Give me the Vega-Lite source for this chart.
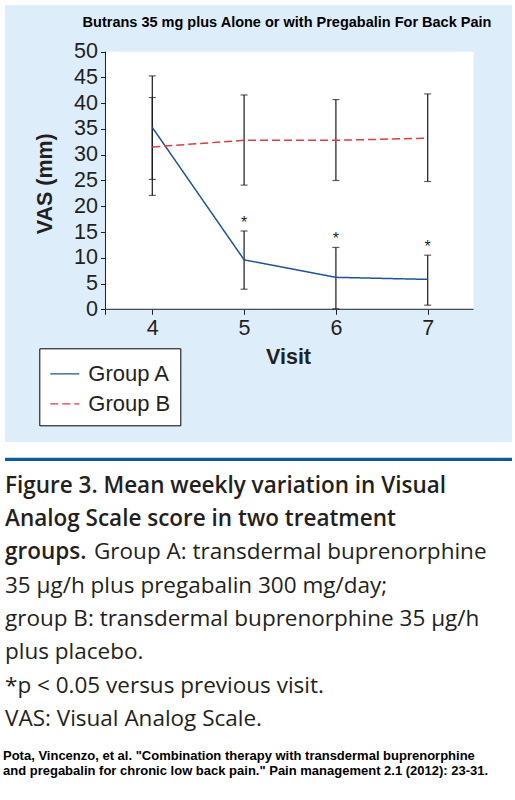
{
  "$schema": "https://vega.github.io/schema/vega-lite/v6.json",
  "padding": {"left": 3, "top": 5, "right": 5, "bottom": 0},
  "background": "white",
  "spacing": 0,
  "config": {"view": {"stroke": null}, "font": "Liberation Sans"},
  "vconcat": [
    {
      "width": 507,
      "height": 437,
      "view": {"fill": "#ddeefa", "stroke": null},
      "title": {
        "text": "Butrans 35 mg plus Alone or with Pregabalin For Back Pain",
        "font": "Liberation Sans",
        "fontSize": 14.5,
        "fontWeight": "bold",
        "color": "black",
        "anchor": "middle",
        "dx": 28.5,
        "offset": -36,
        "baseline": "alphabetic"
      },
      "data": {
        "values": [
          {"visit": 4, "group": "Group A", "mean": 35.3, "lo": 25.2, "hi": 45.3, "sig": false},
          {"visit": 5, "group": "Group A", "mean": 9.6, "lo": 3.9, "hi": 15.2, "sig": true},
          {"visit": 6, "group": "Group A", "mean": 6.2, "lo": 0.1, "hi": 12.0, "sig": true},
          {"visit": 7, "group": "Group A", "mean": 5.8, "lo": 0.8, "hi": 10.5, "sig": true},
          {"visit": 4, "group": "Group B", "mean": 31.5, "lo": 22.1, "hi": 41.1, "sig": false},
          {"visit": 5, "group": "Group B", "mean": 32.8, "lo": 24.1, "hi": 41.6, "sig": false},
          {"visit": 6, "group": "Group B", "mean": 32.8, "lo": 25.0, "hi": 40.7, "sig": false},
          {"visit": 7, "group": "Group B", "mean": 33.2, "lo": 24.8, "hi": 41.8, "sig": false}
        ]
      },
      "layer": [
        {
          "data": {"values": [{}]},
          "mark": {"type": "rect", "fill": "white"},
          "encoding": {
            "x": {
              "datum": 3.49,
              "type": "quantitative",
              "scale": {"domain": [2.3954, 7.9183], "nice": false, "zero": false},
              "axis": {
                "values": [3.49, 4, 5, 6, 7],
                "format": "d",
                "labelExpr": "datum.value < 3.9 ? '' : datum.label",
                "offset": -132.7,
                "domain": false,
                "grid": false,
                "tickSize": 5,
                "tickColor": "#231f20",
                "tickWidth": 1,
                "labelFont": "Liberation Sans",
                "labelFontSize": 21.5,
                "labelColor": "#231f20",
                "labelPadding": 3,
                "title": "Visit",
                "titleFont": "Liberation Sans",
                "titleFontSize": 21.5,
                "titleFontWeight": "bold",
                "titleColor": "#231f20",
                "titlePadding": 8,
                "titleX": 283
              }
            },
            "x2": {"datum": 7.5},
            "y": {
              "datum": 0,
              "type": "quantitative",
              "scale": {"domain": [-25.76, 59.06], "nice": false, "zero": false},
              "axis": {
                "values": [0, 5, 10, 15, 20, 25, 30, 35, 40, 45, 50],
                "offset": -100.5,
                "domain": false,
                "grid": false,
                "tickSize": 5,
                "tickColor": "#231f20",
                "tickWidth": 1,
                "labelFont": "Liberation Sans",
                "labelFontSize": 21.5,
                "labelColor": "#231f20",
                "labelPadding": 3,
                "title": "VAS (mm)",
                "titleFont": "Liberation Sans",
                "titleFontSize": 21.5,
                "titleFontWeight": "bold",
                "titleColor": "#231f20",
                "titlePadding": 17,
                "titleY": 178.3
              }
            },
            "y2": {"datum": 50}
          }
        },
        {
          "data": {"values": [{}]},
          "mark": {"type": "rule", "color": "#231f20", "strokeWidth": 1},
          "encoding": {
            "x": {"datum": 3.49, "type": "quantitative"},
            "x2": {"datum": 7.5},
            "y": {"datum": 0, "type": "quantitative"}
          }
        },
        {
          "data": {"values": [{}]},
          "mark": {"type": "rule", "color": "#231f20", "strokeWidth": 1},
          "encoding": {
            "x": {"datum": 3.49, "type": "quantitative"},
            "y": {"datum": 0, "type": "quantitative"},
            "y2": {"datum": 50}
          }
        },
        {
          "mark": {"type": "rule", "color": "#1a1a1a", "strokeWidth": 1.2},
          "encoding": {
            "x": {"field": "visit", "type": "quantitative"},
            "y": {"field": "lo", "type": "quantitative"},
            "y2": {"field": "hi"}
          }
        },
        {
          "mark": {"type": "tick", "orient": "horizontal", "size": 7, "thickness": 1.2, "color": "#1a1a1a"},
          "encoding": {
            "x": {"field": "visit", "type": "quantitative"},
            "y": {"field": "lo", "type": "quantitative"}
          }
        },
        {
          "mark": {"type": "tick", "orient": "horizontal", "size": 7, "thickness": 1.2, "color": "#1a1a1a"},
          "encoding": {
            "x": {"field": "visit", "type": "quantitative"},
            "y": {"field": "hi", "type": "quantitative"}
          }
        },
        {
          "mark": {"type": "line", "strokeWidth": 1.5},
          "encoding": {
            "x": {"field": "visit", "type": "quantitative"},
            "y": {"field": "mean", "type": "quantitative"},
            "color": {
              "field": "group",
              "type": "nominal",
              "scale": {"domain": ["Group A", "Group B"], "range": ["#1f52a0", "#e03c3c"]},
              "legend": {
                "orient": "none",
                "legendX": 34.3,
                "legendY": 343.3,
                "title": null,
                "fillColor": "white",
                "strokeColor": "black",
                "padding": 10,
                "symbolType": "stroke",
                "symbolSize": 841,
                "symbolStrokeWidth": 1.3,
                "labelFont": "Liberation Sans",
                "labelFontSize": 22,
                "labelColor": "#231f20",
                "labelOffset": 8,
                "rowPadding": 3
              }
            },
            "strokeDash": {
              "field": "group",
              "type": "nominal",
              "scale": {"domain": ["Group A", "Group B"], "range": [[1, 0], [8, 4]]},
              "legend": {
                "orient": "none",
                "legendX": 34.3,
                "legendY": 343.3,
                "title": null,
                "fillColor": "white",
                "strokeColor": "black",
                "padding": 10,
                "symbolType": "stroke",
                "symbolSize": 841,
                "symbolStrokeWidth": 1.3,
                "labelFont": "Liberation Sans",
                "labelFontSize": 22,
                "labelColor": "#231f20",
                "labelOffset": 8,
                "rowPadding": 3
              }
            }
          }
        },
        {
          "transform": [{"filter": "datum.sig"}],
          "mark": {"type": "text", "text": "*", "font": "Liberation Sans", "fontSize": 16, "color": "#231f20", "baseline": "bottom", "align": "center"},
          "encoding": {
            "x": {"field": "visit", "type": "quantitative"},
            "y": {"field": "hi", "type": "quantitative"}
          }
        }
      ]
    },
    {
      "width": 507,
      "height": 358,
      "data": {
        "values": [
          {"line": 1, "kind": "heading", "text": "Figure 3. Mean weekly variation in Visual"},
          {"line": 2, "kind": "heading", "text": "Analog Scale score in two treatment"},
          {"line": 3, "kind": "heading", "text": "groups."},
          {"line": 3, "kind": "continued", "text": "Group A: transdermal buprenorphine"},
          {"line": 4, "kind": "body", "text": "35 µg/h plus pregabalin 300 mg/day;"},
          {"line": 5, "kind": "body", "text": "group B: transdermal buprenorphine 35 µg/h"},
          {"line": 6, "kind": "body", "text": "plus placebo."},
          {"line": 7, "kind": "body", "text": "*p < 0.05 versus previous visit."},
          {"line": 8, "kind": "body", "text": "VAS: Visual Analog Scale."},
          {"line": 9, "kind": "source", "text": ["Pota, Vincenzo, et al. \"Combination therapy with transdermal buprenorphine", "and pregabalin for chronic low back pain.\" Pain management 2.1 (2012): 23-31."]}
        ]
      },
      "layer": [
        {
          "data": {"values": [{}]},
          "mark": {"type": "rule", "color": "#0b5ba3", "strokeWidth": 3.4},
          "encoding": {
            "y": {
              "datum": 0,
              "type": "quantitative",
              "scale": {"domain": [-0.5225, 10.228], "reverse": true, "nice": false, "zero": false},
              "axis": null
            }
          }
        },
        {
          "transform": [{"filter": "datum.kind === 'heading'"}],
          "mark": {"type": "text", "align": "left", "baseline": "alphabetic", "font": "Open Sans", "fontWeight": 600, "fontSize": 22.5, "color": "#231f20"},
          "encoding": {
            "x": {"datum": 0, "type": "quantitative", "scale": {"domain": [0, 1]}, "axis": null},
            "y": {"field": "line", "type": "quantitative"},
            "text": {"field": "text"}
          }
        },
        {
          "transform": [{"filter": "datum.kind === 'continued'"}],
          "mark": {"type": "text", "align": "left", "baseline": "alphabetic", "font": "Open Sans", "fontSize": 22.5, "color": "#231f20", "dx": 89},
          "encoding": {
            "x": {"datum": 0, "type": "quantitative"},
            "y": {"field": "line", "type": "quantitative"},
            "text": {"field": "text"}
          }
        },
        {
          "transform": [{"filter": "datum.kind === 'body'"}],
          "mark": {"type": "text", "align": "left", "baseline": "alphabetic", "font": "Open Sans", "fontSize": 22.5, "color": "#231f20"},
          "encoding": {
            "x": {"datum": 0, "type": "quantitative"},
            "y": {"field": "line", "type": "quantitative"},
            "text": {"field": "text"}
          }
        },
        {
          "transform": [{"filter": "datum.kind === 'source'"}],
          "mark": {"type": "text", "align": "left", "baseline": "alphabetic", "font": "Liberation Sans", "fontWeight": "bold", "fontSize": 13, "lineHeight": 15, "color": "black", "dx": -2, "dy": 1},
          "encoding": {
            "x": {"datum": 0, "type": "quantitative"},
            "y": {"field": "line", "type": "quantitative"},
            "text": {"field": "text"}
          }
        }
      ]
    }
  ]
}
